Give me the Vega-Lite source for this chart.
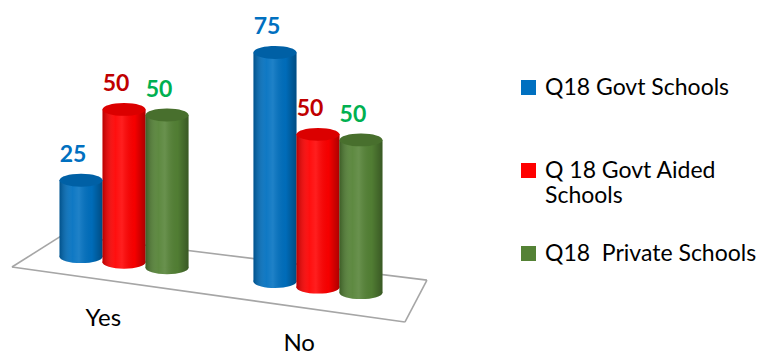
{
  "$schema": "https://vega.github.io/schema/vega-lite/v6.json",
  "width": 442,
  "height": 249,
  "autosize": {"type": "pad"},
  "padding": 0,
  "background": "white",
  "config": {"view": {"stroke": null}, "font": "Lato"},
  "layer": [
    {
      "data": {"values": [{}]},
      "layer": [
        {
          "mark": {"type": "rule", "color": "#a6a6a6", "strokeWidth": 1.6},
          "encoding": {
            "x": {"datum": "Yes", "type": "nominal", "bandPosition": -0.369},
            "x2": {"datum": "Yes", "bandPosition": 0.026},
            "y": {"datum": -5.9, "type": "quantitative", "scale": {"domain": [0, 81.5], "nice": false}, "axis": null},
            "y2": {"datum": 4.6}
          }
        },
        {
          "mark": {"type": "rule", "color": "#a6a6a6", "strokeWidth": 1.6},
          "encoding": {
            "x": {"datum": "Yes", "type": "nominal", "bandPosition": 0.026},
            "x2": {"datum": "No", "bandPosition": 1.345},
            "y": {"datum": 4.6, "type": "quantitative", "axis": null},
            "y2": {"datum": -10.2}
          }
        },
        {
          "mark": {"type": "rule", "color": "#a6a6a6", "strokeWidth": 1.6},
          "encoding": {
            "x": {"datum": "No", "type": "nominal", "bandPosition": 1.345},
            "x2": {"datum": "No", "bandPosition": 1.174},
            "y": {"datum": -10.2, "type": "quantitative", "axis": null},
            "y2": {"datum": -23.9}
          }
        },
        {
          "mark": {"type": "rule", "color": "#a6a6a6", "strokeWidth": 1.6},
          "encoding": {
            "x": {"datum": "No", "type": "nominal", "bandPosition": 1.174},
            "x2": {"datum": "Yes", "bandPosition": -0.369},
            "y": {"datum": -23.9, "type": "quantitative", "axis": null},
            "y2": {"datum": -5.9}
          }
        }
      ]
    },
    {
      "data": {
        "values": [
          {"category": "Yes", "series": "Q18 Govt Schools", "value": 25},
          {"category": "Yes", "series": "Q 18 Govt Aided Schools", "value": 50},
          {"category": "Yes", "series": "Q18  Private Schools", "value": 50},
          {"category": "No", "series": "Q18 Govt Schools", "value": 75},
          {"category": "No", "series": "Q 18 Govt Aided Schools", "value": 50},
          {"category": "No", "series": "Q18  Private Schools", "value": 50}
        ]
      },
      "encoding": {
        "x": {
          "field": "category",
          "type": "nominal",
          "sort": ["Yes", "No"],
          "scale": {"domain": ["Yes", "No"], "paddingInner": 0.335, "paddingOuter": 0.307},
          "axis": {
            "title": null,
            "domain": false,
            "ticks": false,
            "grid": false,
            "labelAngle": 0,
            "labelFont": "Lato",
            "labelFontSize": 24,
            "labelColor": "#000000",
            "labelOffset": -3,
            "labelBaseline": "middle",
            "labelPadding": {"condition": {"test": "datum.value == 'No'", "value": 94}, "value": 69}
          }
        },
        "xOffset": {
          "field": "series",
          "type": "nominal",
          "sort": ["Q18 Govt Schools", "Q 18 Govt Aided Schools", "Q18  Private Schools"],
          "scale": {"domain": ["Q18 Govt Schools", "Q 18 Govt Aided Schools", "Q18  Private Schools"], "paddingInner": 0, "paddingOuter": 0}
        },
        "y": {"field": "value", "type": "quantitative", "scale": {"domain": [0, 81.5], "nice": false}, "axis": null}
      },
      "layer": [
        {
          "mark": {
            "type": "point",
            "shape": "M -1 0 A 1 0.3 0 1 0 1 0 A 1 0.3 0 1 0 -1 0 Z",
            "size": 1849,
            "filled": true,
            "opacity": 1,
            "yOffset": {"expr": "0.1286 * (scale('x', datum.category) + scale('xOffset', datum.series))"}
          },
          "encoding": {
            "y": {"datum": 0, "type": "quantitative"},
            "color": {"field": "series", "type": "nominal"}
          }
        },
        {
          "mark": {
            "type": "point",
            "shape": "M -1 0 A 1 0.3 0 1 0 1 0 A 1 0.3 0 1 0 -1 0 Z",
            "size": 1849,
            "filled": true,
            "opacity": 1,
            "strokeWidth": 0,
            "fill": {
              "gradient": "linear", "x1": 0, "x2": 1, "y1": 0, "y2": 0,
              "stops": [
                {"offset": 0, "color": "rgba(0,0,0,0.28)"},
                {"offset": 0.3, "color": "rgba(255,255,255,0.06)"},
                {"offset": 0.45, "color": "rgba(255,255,255,0.12)"},
                {"offset": 0.75, "color": "rgba(0,0,0,0.04)"},
                {"offset": 1, "color": "rgba(0,0,0,0.32)"}
              ]
            },
            "yOffset": {"expr": "0.1286 * (scale('x', datum.category) + scale('xOffset', datum.series))"}
          },
          "encoding": {"y": {"datum": 0, "type": "quantitative"}}
        },
        {
          "mark": {
            "type": "bar",
            "yOffset": {"expr": "0.1286 * (scale('x', datum.category) + scale('xOffset', datum.series))"}
          },
          "encoding": {
            "color": {
              "field": "series",
              "type": "nominal",
              "scale": {
                "domain": ["Q18 Govt Schools", "Q 18 Govt Aided Schools", "Q18  Private Schools"],
                "range": ["#0070C0", "#FF0000", "#548235"]
              },
              "legend": {
                "title": null,
                "orient": "none",
                "legendX": 517,
                "legendY": 76,
                "symbolType": "square",
                "symbolSize": 225,
                "symbolStrokeWidth": 0,
                "labelFont": "Lato",
                "labelFontSize": 23,
                "labelColor": "#000000",
                "labelLimit": 0,
                "labelOffset": 5,
                "rowPadding": 34,
                "labelExpr": "datum.label == 'Q 18 Govt Aided Schools' ? ['Q 18 Govt Aided', 'Schools'] : [replace(datum.label, '  ', '\u00a0 '), '']"
              }
            }
          }
        },
        {
          "mark": {
            "type": "bar",
            "fill": {
              "gradient": "linear", "x1": 0, "x2": 1, "y1": 0, "y2": 0,
              "stops": [
                {"offset": 0, "color": "rgba(0,0,0,0.28)"},
                {"offset": 0.3, "color": "rgba(255,255,255,0.06)"},
                {"offset": 0.45, "color": "rgba(255,255,255,0.12)"},
                {"offset": 0.75, "color": "rgba(0,0,0,0.04)"},
                {"offset": 1, "color": "rgba(0,0,0,0.32)"}
              ]
            },
            "yOffset": {"expr": "0.1286 * (scale('x', datum.category) + scale('xOffset', datum.series))"}
          }
        },
        {
          "mark": {
            "type": "point",
            "shape": "M -1 0 A 1 0.3 0 1 0 1 0 A 1 0.3 0 1 0 -1 0 Z",
            "size": 1849,
            "filled": true,
            "opacity": 1,
            "yOffset": {"expr": "0.1286 * (scale('x', datum.category) + scale('xOffset', datum.series))"}
          },
          "encoding": {"color": {"field": "series", "type": "nominal"}}
        },
        {
          "mark": {
            "type": "point",
            "shape": "M -1 0 A 1 0.3 0 1 0 1 0 A 1 0.3 0 1 0 -1 0 Z",
            "size": 1849,
            "filled": true,
            "fill": "#000000",
            "opacity": 0.14,
            "yOffset": {"expr": "0.1286 * (scale('x', datum.category) + scale('xOffset', datum.series))"}
          }
        },
        {
          "mark": {
            "type": "text",
            "font": "Lato",
            "fontSize": 23,
            "fontWeight": "bold",
            "baseline": "middle",
            "dx": -8,
            "dy": -25,
            "yOffset": {"expr": "0.1286 * (scale('x', datum.category) + scale('xOffset', datum.series))"}
          },
          "encoding": {
            "text": {"field": "value", "type": "quantitative"},
            "fill": {
              "field": "series",
              "type": "nominal",
              "scale": {
                "domain": ["Q18 Govt Schools", "Q 18 Govt Aided Schools", "Q18  Private Schools"],
                "range": ["#0070C0", "#C00000", "#00B050"]
              },
              "legend": null
            }
          }
        }
      ]
    }
  ]
}
